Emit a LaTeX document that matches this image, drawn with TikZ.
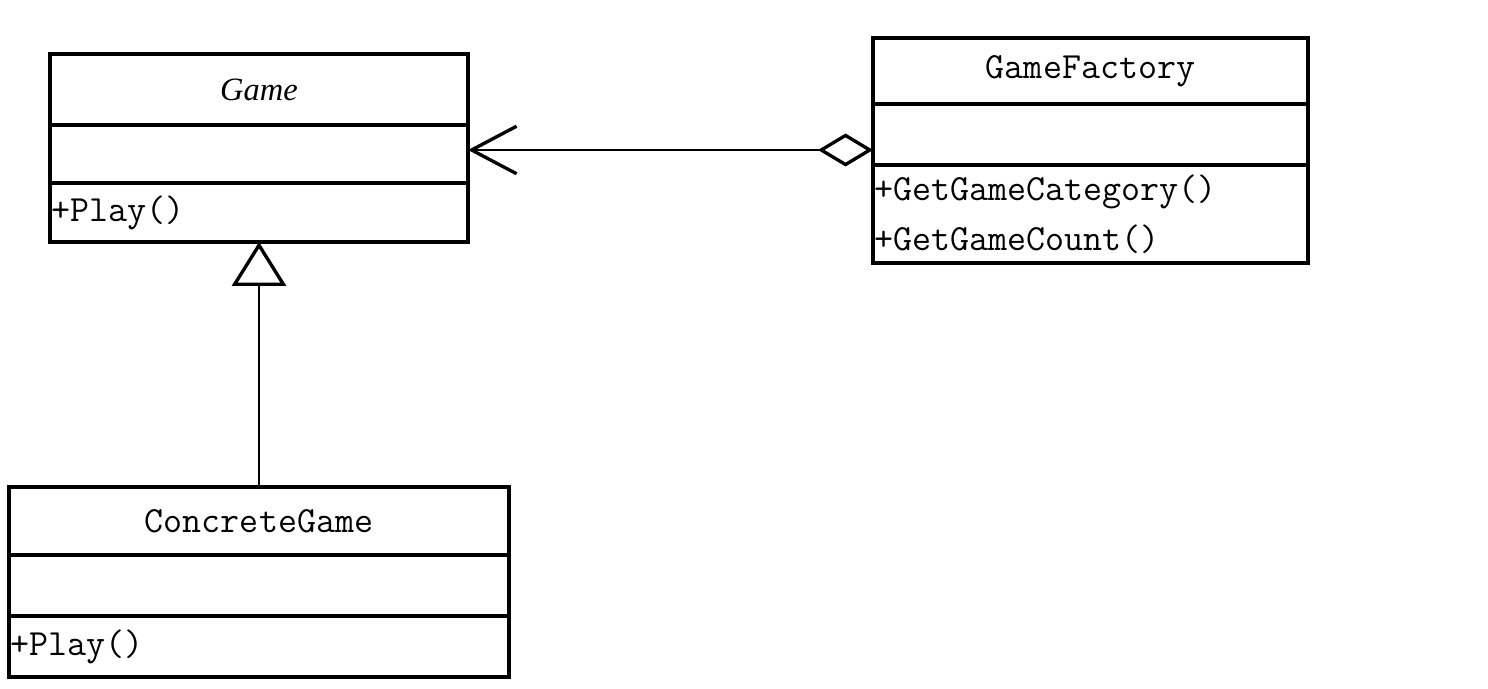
\documentclass[tikz,border=0pt]{standalone}
\usepackage{fontspec}
\usepackage{tikz}
\usetikzlibrary{shapes,arrows.meta,positioning,calc}
\newfontfamily\gamefont{Liberation Serif}
\newcommand{\umlfont}{\fontsize{21}{28.45}\selectfont\ttfamily}
\tikzstyle{umlpart} = [rectangle, draw, line width=1.9pt, outer sep=0pt, inner xsep=1pt, inner ysep=0pt, font=\umlfont]
\tikzstyle{umlname} = [umlpart, anchor=north west, align=center]
\tikzstyle{umlops} = [umlpart, align=left]
\tikzstyle{umllink} = [line width=1.1pt]

\begin{document}
\begin{tikzpicture}
\useasboundingbox (0,0) rectangle (29.76,-13.78);

% Game
\node[umlname, minimum width=8.36cm, minimum height=1.42cm, font=\fontsize{18.5}{22}\selectfont\gamefont\itshape] (gname) at (1.00,-1.08) {Game};
\node[umlpart, below=0pt of gname, minimum width=8.36cm, minimum height=1.16cm] (gattr) {};
\node[umlops, below=0pt of gattr, text width=8.29cm, minimum height=1.18cm] (gops) {+Play()};

% GameFactory
\node[umlname, minimum width=8.7cm, minimum height=1.32cm] (fname) at (17.46,-0.76) {GameFactory};
\node[umlpart, below=0pt of fname, minimum width=8.7cm, minimum height=1.22cm] (fattr) {};
\node[umlops, below=0pt of fattr, text width=8.63cm, minimum height=1.96cm] (fops) {+GetGameCategory()\\+GetGameCount()};

% ConcreteGame
\node[umlname, minimum width=10.0cm, minimum height=1.36cm] (cname) at (0.18,-9.74) {ConcreteGame};
\node[umlpart, below=0pt of cname, minimum width=10.0cm, minimum height=1.22cm] (cattr) {};
\node[umlops, below=0pt of cattr, text width=9.93cm, minimum height=1.22cm] (cops) {+Play()};

% links
\draw[umllink, -{Triangle[open, length=0.88cm, width=1.08cm, line width=1.9pt]}] (cname.north) -- (gops.south);
\coordinate (aggpt) at ([yshift=-0.31cm]fattr.west);
\draw[umllink, {Diamond[open, length=1.1cm, width=0.66cm, line width=1.9pt]}-{Straight Barb[length=0.9cm, width=0.95cm, line width=1.9pt]}] (aggpt) -- (aggpt -| gattr.east);
\end{tikzpicture}
\end{document}
